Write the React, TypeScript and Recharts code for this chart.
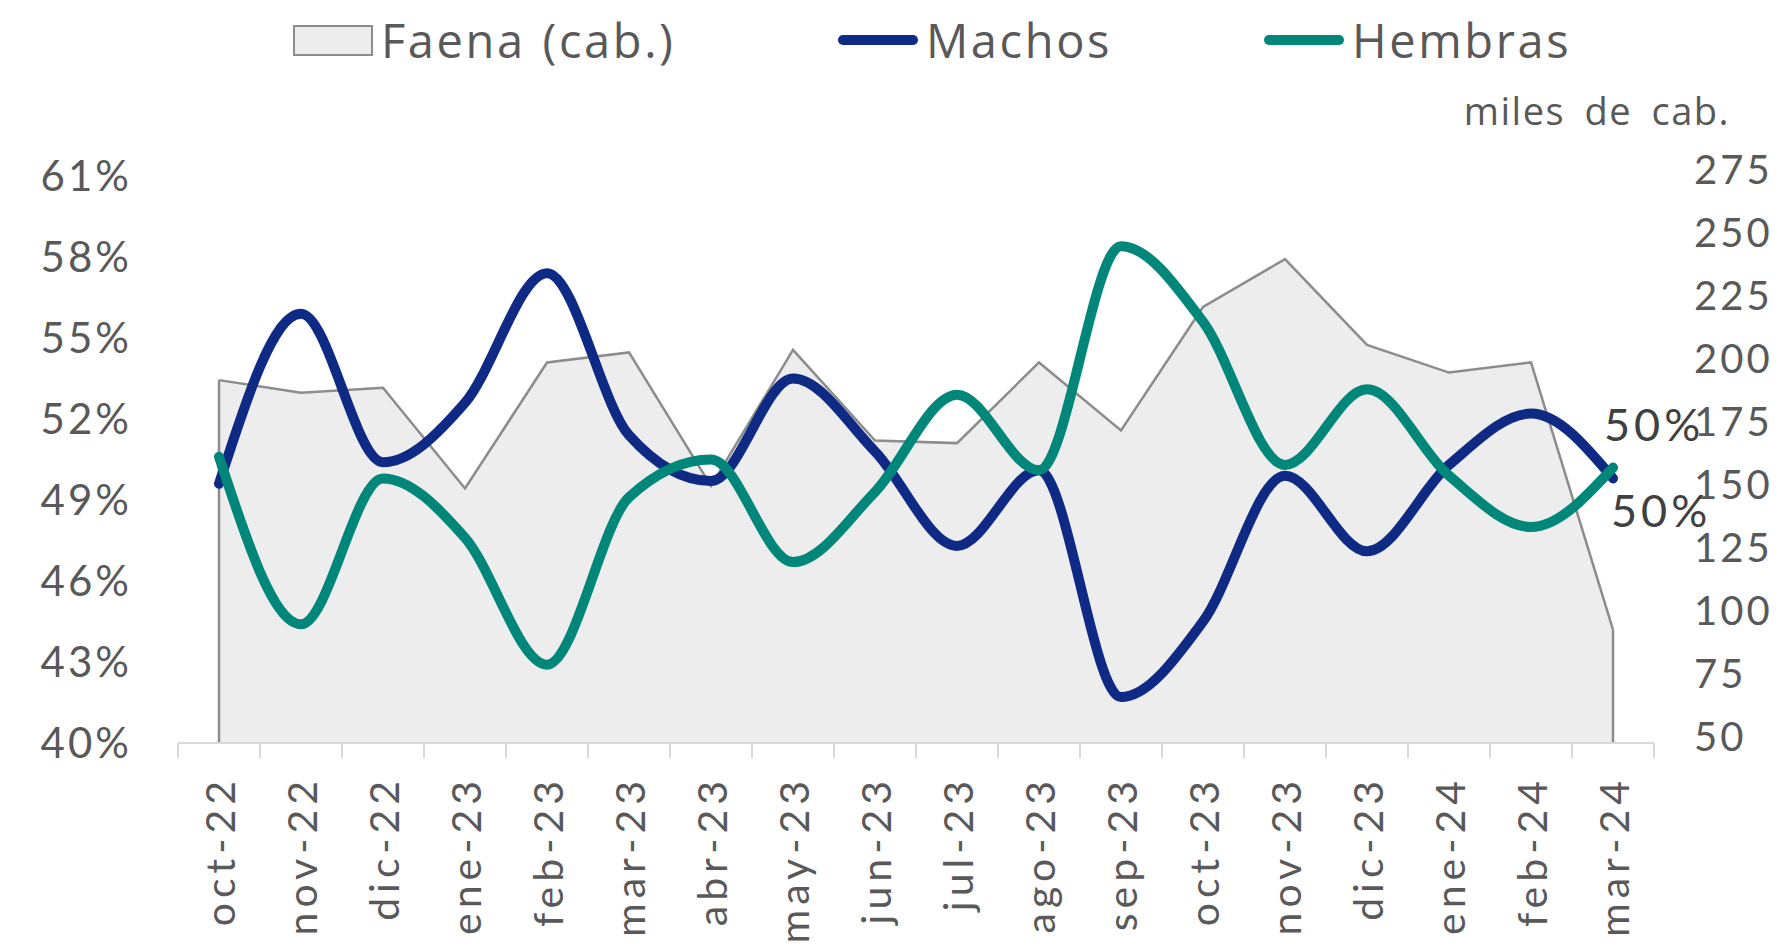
import React from "react";
import { ComposedChart, Area, Line, XAxis, YAxis, Legend, ReferenceLine, LabelList } from "recharts";

const months = [
  "oct-22", "nov-22", "dic-22", "ene-23", "feb-23", "mar-23", "abr-23", "may-23", "jun-23",
  "jul-23", "ago-23", "sep-23", "oct-23", "nov-23", "dic-23", "ene-24", "feb-24", "mar-24",
];
// miles de cabezas (eje derecho)
const faena = [194, 189, 191, 151, 201, 205, 152, 206, 170, 169, 201, 174, 223, 242, 208, 197, 201, 95];
// % (eje izquierdo)
const machos = [49.6, 55.9, 50.4, 52.6, 57.4, 51.4, 49.7, 53.5, 50.8, 47.3, 50.1, 41.7, 44.5, 49.9, 47.1, 50.3, 52.2, 49.8];
const hembras = [50.6, 44.4, 49.8, 47.6, 42.9, 49.1, 50.5, 46.7, 49.3, 52.9, 50.1, 58.4, 55.6, 50.3, 53.1, 49.9, 48.0, 50.2];

const leftTicks = [40, 43, 46, 49, 52, 55, 58, 61];
const rightTicks = [50, 75, 100, 125, 150, 175, 200, 225, 250, 275];

const data = months.map((m, i) => ({ month: m, faena: faena[i], machos: machos[i], hembras: hembras[i] }));

const W = 1782;
const H = 952;
const LEGEND_H = 80;
const PLOT_TOP = 176;
const PLOT_H = 567;
const LEFT_W = 178;
const RIGHT_W = 128;
const BAND = (W - LEFT_W - RIGHT_W) / months.length;

const NAVY = "#0E2A84";
const TEAL = "#00877A";
const GREY_TXT = "#595959";
const FONT = "Lato, 'Open Sans', sans-serif";

function XTick(props: any) {
  const { x, y, payload, index } = props;
  const last = index === months.length - 1;
  return (
    <g>
      <line x1={x - BAND / 2} x2={x - BAND / 2} y1={y} y2={y + 15} stroke="#D9D9D9" strokeWidth={2} />
      {last && <line x1={x + BAND / 2} x2={x + BAND / 2} y1={y} y2={y + 15} stroke="#D9D9D9" strokeWidth={2} />}
      <text
        x={x}
        y={y + 33}
        transform={`rotate(-90 ${x} ${y + 33})`}
        textAnchor="end"
        dominantBaseline="central"
        fill={GREY_TXT}
        fontSize={41}
        fontFamily={FONT}
        letterSpacing={5}
      >
        {payload.value}
      </text>
    </g>
  );
}

const endLabel = (dx: number, dy: number) => (props: any) => {
  const { x, y, index, value } = props;
  if (index !== months.length - 1) return null;
  return (
    <text x={x + dx} y={y + dy} dominantBaseline="central" fill="#404040" fontSize={45} fontFamily={FONT} letterSpacing={4}>
      {Math.round(value)}%
    </text>
  );
};

function LegendBox() {
  const txt: React.CSSProperties = {
    position: "absolute",
    top: 8,
    fontSize: 47,
    lineHeight: "64px",
    color: GREY_TXT,
    fontFamily: "'Open Sans', sans-serif",
    whiteSpace: "nowrap",
    letterSpacing: 2.6,
    wordSpacing: 2,
  };
  const line = (left: number, color: string): React.CSSProperties => ({
    position: "absolute",
    left,
    top: 35,
    width: 80,
    height: 10,
    borderRadius: 5,
    background: color,
  });
  return (
    <div style={{ position: "relative", width: W, height: LEGEND_H }}>
      <div style={{ position: "absolute", left: 293, top: 25, width: 76, height: 27, background: "#EDEDED", border: "2px solid #8C8C8C" }} />
      <span style={{ ...txt, left: 381 }}>Faena (cab.)</span>
      <div style={line(838, NAVY)} />
      <span style={{ ...txt, left: 926 }}>Machos</span>
      <div style={line(1264, TEAL)} />
      <span style={{ ...txt, left: 1352 }}>Hembras</span>
    </div>
  );
}

export default function App() {
  return (
    <div style={{ position: "absolute", left: 0, top: 0, width: W, height: H, background: "#fff" }}>
      <ComposedChart width={W} height={H} data={data} margin={{ top: PLOT_TOP - LEGEND_H, right: 0, left: 0, bottom: 0 }}>
        <Legend verticalAlign="top" height={LEGEND_H} content={() => <LegendBox />} wrapperStyle={{ top: 0, left: 0, width: W }} />
        <XAxis
          dataKey="month"
          scale="band"
          interval={0}
          height={H - PLOT_TOP - PLOT_H}
          tickLine={false}
          tickSize={0}
          tickMargin={0}
          axisLine={{ stroke: "#D9D9D9", strokeWidth: 2 }}
          tick={<XTick />}
        />
        <YAxis
          yAxisId="left"
          orientation="left"
          width={LEFT_W}
          domain={[40, 61]}
          ticks={leftTicks}
          interval={0}
          axisLine={false}
          tickLine={false}
          tickSize={0}
          tickMargin={46}
          tickFormatter={(v) => `${v}%`}
          tick={{ fill: GREY_TXT, fontSize: 42, fontFamily: FONT, letterSpacing: 3 }}
        />
        <YAxis
          yAxisId="right"
          orientation="right"
          width={RIGHT_W}
          domain={[50, 275]}
          ticks={rightTicks}
          interval={0}
          axisLine={false}
          tickLine={false}
          tickSize={0}
          tickMargin={40}
          tick={{ fill: GREY_TXT, fontSize: 40, fontFamily: FONT, letterSpacing: 3, dy: -6 }}
          label={(p: any) => (
            <text
              x={p.viewBox.x + p.viewBox.width - 52}
              y={p.viewBox.y - 66}
              textAnchor="end"
              dominantBaseline="central"
              fill={GREY_TXT}
              fontSize={38}
              fontFamily="'Open Sans', sans-serif"
              letterSpacing={1.5}
              wordSpacing={8}
            >
              miles de cab.
            </text>
          )}
        />
        <Area
          yAxisId="right"
          type="linear"
          dataKey="faena"
          stroke="#8C8C8C"
          strokeWidth={2.5}
          fill="#EDEDED"
          fillOpacity={1}
          isAnimationActive={false}
          legendType="none"
        />
        <ReferenceLine
          yAxisId="right"
          segment={[{ x: months[0], y: 50 }, { x: months[0], y: faena[0] }]}
          stroke="#8C8C8C"
          strokeWidth={2.5}
        />
        <ReferenceLine
          yAxisId="right"
          segment={[{ x: months[months.length - 1], y: 50 }, { x: months[months.length - 1], y: faena[faena.length - 1] }]}
          stroke="#8C8C8C"
          strokeWidth={2.5}
        />
        <Line
          yAxisId="left"
          type="monotone"
          dataKey="machos"
          stroke={NAVY}
          strokeWidth={10}
          strokeLinecap="round"
          dot={false}
          isAnimationActive={false}
        >
          <LabelList dataKey="machos" content={endLabel(-9, -54)} />
        </Line>
        <Line
          yAxisId="left"
          type="monotone"
          dataKey="hembras"
          stroke={TEAL}
          strokeWidth={10}
          strokeLinecap="round"
          dot={false}
          isAnimationActive={false}
        >
          <LabelList dataKey="hembras" content={endLabel(-2, 42)} />
        </Line>
      </ComposedChart>
    </div>
  );
}
